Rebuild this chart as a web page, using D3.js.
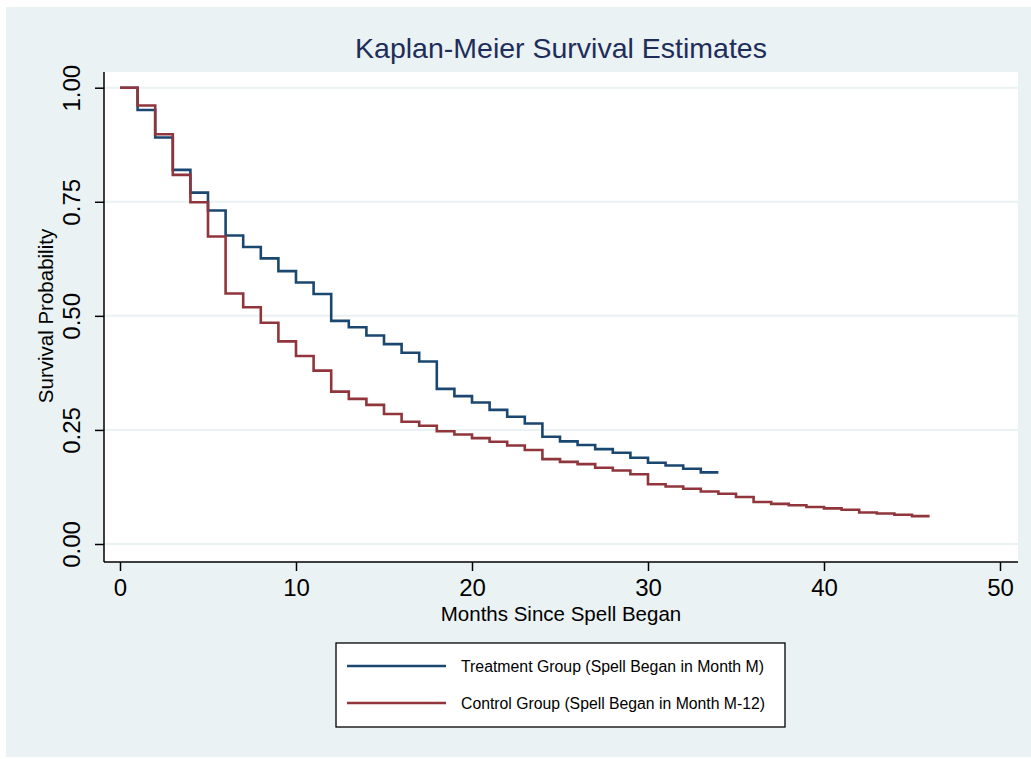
<!DOCTYPE html>
<html><head><meta charset="utf-8">
<script src="https://cdn.jsdelivr.net/npm/d3@7"></script>
<style>body{margin:0;background:#fff}svg{display:block}text{font-family:"Liberation Sans",Arial,sans-serif}</style>
</head><body>
<svg id="c" width="1031" height="759"></svg>
<script>
const treatmentMonths = [0,1,2,3,4,5,6,7,8,9,10,11,12,13,14,15,16,17,18,19,20,21,22,23,24,25,26,27,28,29,30,31,32,33,34];
const treatmentSurv = [1.0,0.951,0.891,0.820,0.770,0.731,0.676,0.651,0.626,0.598,0.573,0.548,0.489,0.475,0.457,0.438,0.419,0.400,0.340,0.324,0.310,0.294,0.279,0.264,0.235,0.225,0.217,0.208,0.200,0.189,0.178,0.172,0.165,0.157,0.157];
const controlMonths = [0,1,2,3,4,5,6,7,8,9,10,11,12,13,14,15,16,17,18,19,20,21,22,23,24,25,26,27,28,29,30,31,32,33,34,35,36,37,38,39,40,41,42,43,44,45,46];
const controlSurv = [1.0,0.961,0.898,0.809,0.749,0.674,0.549,0.519,0.485,0.444,0.412,0.380,0.334,0.318,0.305,0.285,0.268,0.259,0.247,0.240,0.232,0.224,0.216,0.206,0.186,0.180,0.175,0.167,0.161,0.153,0.131,0.126,0.121,0.115,0.110,0.103,0.092,0.088,0.085,0.081,0.078,0.075,0.069,0.067,0.064,0.061,0.061];
const xTicks = [0,10,20,30,40,50];
const yTicks = [0,0.25,0.5,0.75,1];
const seriesNames = ["Treatment Group (Spell Began in Month M)","Control Group (Spell Began in Month M-12)"];
const seriesColors = ["#1a476f","#90353b"];

const svg = d3.select("#c");
const bg = "#eaf2f3";
svg.append("rect").attr("x",6).attr("y",7).attr("width",1025).attr("height",750).attr("fill",bg);

const L=104, R=1018, T=72, B=562;
svg.append("rect").attr("x",L).attr("y",T).attr("width",R-L).attr("height",B-T).attr("fill","#fff");

const x = d3.scaleLinear().domain([0,50]).range([120,1000]);
const y = d3.scaleLinear().domain([0,1]).range([544,87.7]);

// grid
svg.append("g").selectAll("line").data(yTicks).join("line")
  .attr("x1",L).attr("x2",R).attr("y1",d=>y(d)).attr("y2",d=>y(d))
  .attr("stroke",bg).attr("stroke-width",2);

// axes
const xa = svg.append("g").attr("transform",`translate(0,${B})`)
  .call(d3.axisBottom(x).tickValues(xTicks).tickFormat(d3.format("d")).tickSize(9).tickSizeOuter(0));
xa.select(".domain").attr("d",`M${L},0H${R}`).attr("stroke","#000").attr("stroke-width",1.5);
xa.selectAll(".tick line").attr("stroke","#000").attr("stroke-width",1.5);
xa.selectAll(".tick text").attr("font-size",24).attr("fill","#000").attr("dy",0).attr("y",34).attr("font-family","Liberation Sans, Arial, sans-serif");

const ya = svg.append("g").attr("transform",`translate(${L},0)`)
  .call(d3.axisLeft(y).tickValues(yTicks).tickFormat(d3.format(".2f")).tickSize(9).tickSizeOuter(0));
ya.select(".domain").attr("d",`M0,${T}V${B}`).attr("stroke","#000").attr("stroke-width",1.5);
ya.selectAll(".tick line").attr("stroke","#000").attr("stroke-width",1.5);
ya.selectAll(".tick text").attr("font-size",24).attr("fill","#000")
  .attr("x",0).attr("dy",0).attr("text-anchor","middle")
  .attr("transform","translate(-24,0) rotate(-90)")
  .attr("font-family","Liberation Sans, Arial, sans-serif");

// titles
svg.append("text").attr("x",561).attr("y",58).attr("text-anchor","middle")
  .attr("font-size",28.5).attr("fill","#1e2d5a").text("Kaplan-Meier Survival Estimates");
svg.append("text").attr("x",561).attr("y",621).attr("text-anchor","middle")
  .attr("font-size",20.5).attr("fill","#000").text("Months Since Spell Began");
svg.append("text").attr("transform",`translate(53,316) rotate(-90)`).attr("text-anchor","middle")
  .attr("font-size",20.5).attr("fill","#000").text("Survival Probability");

// curves
const line = d3.line().x(d=>x(d[0])).y(d=>y(d[1])).curve(d3.curveStepAfter);
const series = [
  d3.zip(treatmentMonths, treatmentSurv),
  d3.zip(controlMonths, controlSurv)
];
series.forEach((s,i)=>{
  svg.append("path").datum(s).attr("d",line).attr("fill","none")
    .attr("stroke",seriesColors[i]).attr("stroke-width",2.6).attr("stroke-linejoin","miter");
});

// legend
const lg = svg.append("g");
lg.append("rect").attr("x",336).attr("y",643).attr("width",449).attr("height",84)
  .attr("fill","#fff").attr("stroke","#000").attr("stroke-width",1.3);
seriesNames.forEach((n,i)=>{
  const yy = 666 + i*37;
  lg.append("line").attr("x1",347).attr("x2",446).attr("y1",yy).attr("y2",yy)
    .attr("stroke",seriesColors[i]).attr("stroke-width",2.6);
  lg.append("text").attr("x",461).attr("y",yy+6).attr("font-size",16).attr("fill","#000")
    .attr("textLength", i===0 ? 303 : 304).attr("lengthAdjust","spacingAndGlyphs").text(n);
});
</script>
</body></html>
